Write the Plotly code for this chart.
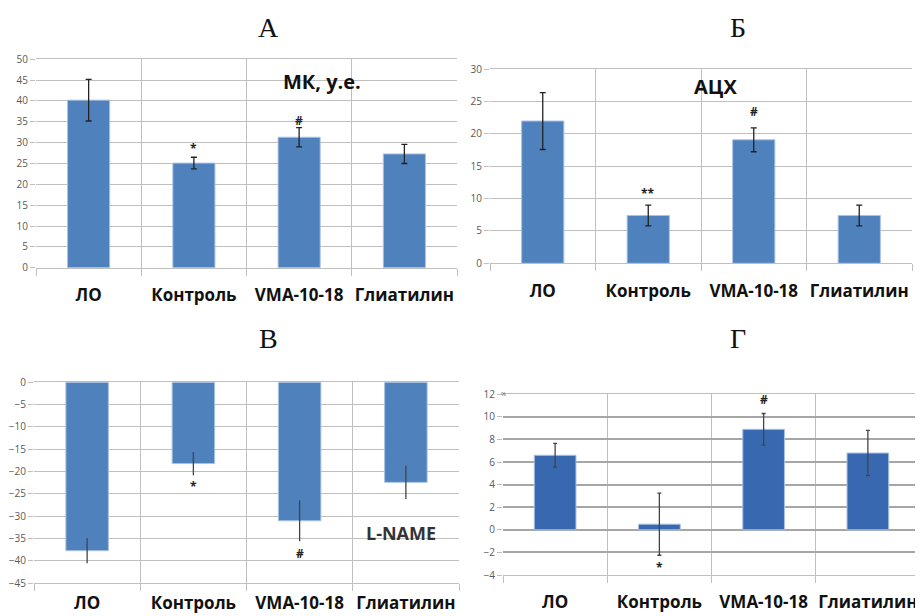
import plotly.graph_objects as go

categories = ["ЛО", "Контроль", "VMA-10-18", "Глиатилин"]

# Panel А: МК, у.е.
mk_values = [40.2, 25.1, 31.3, 27.3]
mk_errors = [5.0, 1.4, 2.3, 2.3]
# Panel Б: АЦХ
ach_values = [22.0, 7.4, 19.1, 7.4]
ach_errors = [4.4, 1.6, 1.85, 1.6]
# Panel В: L-NAME
lname_values = [-37.7, -18.2, -31.0, -22.4]
lname_errors = [2.8, 2.6, 4.6, 3.7]
# Panel Г
g_values = [6.6, 0.5, 8.9, 6.8]
g_errors = [1.05, 2.75, 1.4, 2.0]

panel_letters = ["А", "Б", "В", "Г"]

BLUE = "#4f81bd"
BLUE_D = "#3868b0"
GRID = "#bfbfbf"
TICKC = "#595959"

# page has an 8px body margin; figure is sized to fill the rest of the window
W, H, OFF = 915, 608, 8


def px_x(px):
    return (px - OFF) / W


def px_y(py):
    return 1 - (py - OFF) / H


fig = go.Figure()

panels = [
    dict(vals=mk_values, errs=mk_errors, color=BLUE, errw=3, errc="#222222"),
    dict(vals=ach_values, errs=ach_errors, color=BLUE, errw=3, errc="#222222"),
    dict(vals=lname_values, errs=lname_errors, color=BLUE, errw=0, errc="#444444"),
    dict(vals=g_values, errs=g_errors, color=BLUE_D, errw=2, errc="#444444"),
]

for i, p in enumerate(panels):
    sfx = "" if i == 0 else str(i + 1)
    fig.add_trace(go.Bar(
        x=categories, y=p["vals"],
        xaxis="x" + sfx, yaxis="y" + sfx,
        width=0.4,
        marker=dict(color=p["color"], line=dict(color="#a9c2e3", width=1)),
        error_y=dict(type="data", array=p["errs"], visible=True,
                     color=p["errc"], thickness=1.3, width=p["errw"]),
        showlegend=False,
    ))

# (x0, x1, y_top, y_bottom) in window pixels
boxes = [
    (36, 457, 59.3, 267.7),
    (490, 912, 69.3, 263.3),
    (34, 459, 382.3, 583.3),
    (503, 920, 394.3, 575.0),
]
ranges = [([0, 50], 5, 12), ([0, 30], 5, 12), ([-45, 0], 5, 4), ([-4, 12], 2, 12)]

for i, ((x0, x1, yt, yb), (rng, dt, standoff)) in enumerate(zip(boxes, ranges)):
    sfx = "" if i == 0 else str(i + 1)
    gridc = GRID if i < 3 else "#a6a6a6"
    gridw = 1 if i < 3 else 2
    fig.update_layout(**{
        "xaxis" + sfx: dict(
            domain=[px_x(x0), px_x(x1)], anchor="y" + sfx, type="category",
            tickson="boundaries", ticks="outside", ticklen=7, tickangle=0,
            tickcolor=GRID, showgrid=True, gridcolor=GRID, gridwidth=1,
            showline=True, linecolor=GRID, mirror=True,
            tickfont=dict(family="Open Sans", size=17, color="#111111", weight="bold"),
            ticklabelstandoff=standoff, automargin=False,
            fixedrange=True,
        ),
        "yaxis" + sfx: dict(
            domain=[px_y(yb), px_y(yt)], anchor="x" + sfx, range=rng, dtick=dt,
            ticks="outside", ticklen=5, tickcolor=GRID,
            showgrid=True, gridcolor=gridc, gridwidth=gridw,
            zeroline=False, showline=False, automargin=False,
            tickfont=dict(family="Open Sans", size=10, color=TICKC),
            fixedrange=True,
        ),
    })

annotations = []
# panel letters
for letter, (px, py) in zip(panel_letters, [(268, 27), (738, 27), (268, 338), (738, 338)]):
    annotations.append(dict(text=letter, x=px_x(px), y=px_y(py), xref="paper", yref="paper",
                            xanchor="center", yanchor="middle",
                            showarrow=False, font=dict(family="Liberation Serif", size=28, color="#111111")))

# chart labels
annotations += [
    dict(text="МК, у.е.", x=2.22, y=44.6, xref="x", yref="y", showarrow=False,
         font=dict(family="Open Sans", size=20, color="#111111", weight="bold")),
    dict(text="АЦХ", x="VMA-10-18", xshift=-38, y=27.4, xref="x2", yref="y2", showarrow=False,
         font=dict(family="Open Sans", size=20, color="#111111", weight="bold")),
    dict(text="L-NAME", x="Глиатилин", xshift=-5, y=-33.8, xref="x3", yref="y3", showarrow=False,
         font=dict(family="Open Sans", size=18, color="#333333", weight="bold")),
    dict(text="%", x=px_x(499), y=12, xref="paper", yref="y4", xanchor="left", showarrow=False,
         font=dict(family="Open Sans", size=6, color=TICKC)),
]
# significance marks
marks = [
    ("x", "y", "Контроль", 28.6, "*"),
    ("x", "y", "VMA-10-18", 35.4, "#"),
    ("x2", "y2", "Контроль", 10.8, "**"),
    ("x2", "y2", "VMA-10-18", 23.5, "#"),
    ("x3", "y3", "Контроль", -23.4, "*"),
    ("x3", "y3", "VMA-10-18", -38.3, "#"),
    ("x4", "y4", "VMA-10-18", 11.5, "#"),
    ("x4", "y4", "Контроль", -3.3, "*"),
]
for xr, yr, cat, yv, t in marks:
    annotations.append(dict(text=t, x=cat, y=yv, xref=xr, yref=yr, showarrow=False,
                            font=dict(family="Open Sans", size=12, color="#222222", weight="bold")))

fig.update_layout(
    width=W, height=H,
    margin=dict(l=0, r=0, t=0, b=0),
    paper_bgcolor="white", plot_bgcolor="white",
    annotations=annotations,
)

fig.write_html("out.html")
